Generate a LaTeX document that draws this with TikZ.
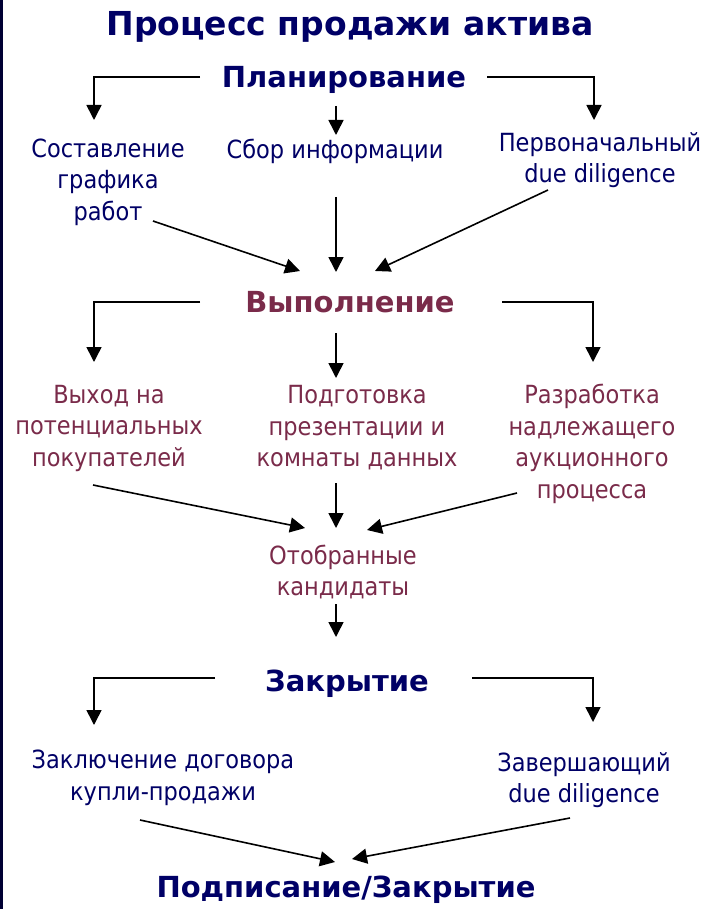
\documentclass[tikz,border=0pt]{standalone}
\usepackage{fontspec}
\setmainfont{DejaVu Sans}
\newfontfamily\taskfont{DejaVu Sans}[FakeStretch=0.9]
\usetikzlibrary{arrows.meta,calc}
\definecolor{navytext}{RGB}{0,0,102}
\definecolor{maroontext}{RGB}{122,43,74}
\definecolor{sidebar}{RGB}{0,0,51}
\begin{document}
\begin{tikzpicture}[x=1pt, y=-1pt,
  title/.style={font=\fontsize{33}{38}\selectfont\bfseries, text=navytext,
                inner sep=0pt, text height=23pt, text depth=0pt},
  phase/.style={font=\fontsize{29}{34}\selectfont\bfseries, text=navytext,
                inner sep=0pt, text height=21pt, text depth=0pt},
  task/.style={font=\taskfont\fontsize{25}{31.5}\selectfont, align=center,
               text=navytext, inner sep=0pt},
  arrow/.style={-{Triangle[width=15pt,length=15pt]}, line width=1.6pt},
]
  \useasboundingbox (0,0) rectangle (708,909);
  \fill[sidebar] (0,0) rectangle (3,909);

  % Headings
  \node[title] (title) at (350,24) {Процесс продажи актива};
  \node[phase] (plan) at (344,77) {Планирование};
  \node[phase, text=maroontext] (vyp) at (350,302) {Выполнение};
  \node[phase] (zakr) at (347,681) {Закрытие};
  \node[phase] (podp) at (346,887) {Подписание/Закрытие};

  % Planning tasks
  \node[task] (sost) at (108,182) {Составление\\графика\\работ};
  \node[task] (sbor) at (335,151) {Сбор информации};
  \node[task] (perv) at (600,160) {Первоначальный\\due diligence};

  % Execution tasks
  \node[task, text=maroontext] (vyhod) at (109,428) {Выход на\\потенциальных\\покупателей};
  \node[task, text=maroontext] (podg) at (357,428) {Подготовка\\презентации и\\комнаты данных};
  \node[task, text=maroontext] (razr) at (592,444) {Разработка\\надлежащего\\аукционного\\процесса};
  \node[task, text=maroontext] (otobr) at (343,572) {Отобранные\\кандидаты};

  % Closing tasks
  \node[task] (zakl) at (163,778) {Заключение договора\\купли-продажи};
  \node[task] (zav) at (584,780) {Завершающий\\due diligence};

  % Planning arrows
  \draw[arrow] ($(plan)+(-144,0)$) -| ($(sost)+(-14,-62)$);
  \draw[arrow] ($(plan)+(-8,29)$) -- ($(sbor)+(1,-16)$);
  \draw[arrow] ($(plan)+(143,0)$) -| ($(perv)+(-6,-40)$);
  \draw[arrow] ($(sost)+(45,39)$) -- ($(vyp)+(-50,-31)$);
  \draw[arrow] ($(sbor)+(1,46)$) -- ($(vyp)+(-14,-30)$);
  \draw[arrow] ($(perv)+(-52,30)$) -- ($(vyp)+(25,-31)$);

  % Execution arrows
  \draw[arrow] ($(vyp)+(-150,0)$) -| ($(vyhod)+(-15,-66)$);
  \draw[arrow] ($(vyp)+(-14,31)$) -- ($(podg)+(-21,-50)$);
  \draw[arrow] ($(vyp)+(152,0)$) -| ($(razr)+(1,-82)$);
  \draw[arrow] ($(vyhod)+(-16,57)$) -- ($(otobr)+(-38,-44)$);
  \draw[arrow] ($(podg)+(-21,55)$) -- ($(otobr)+(-7,-44)$);
  \draw[arrow] ($(razr)+(-75,49)$) -- ($(otobr)+(24,-42)$);
  \draw[arrow] ($(otobr)+(-7,32)$) -- ($(zakr)+(-11,-44)$);

  % Closing arrows
  \draw[arrow] ($(zakr)+(-132,-3)$) -| ($(zakl)+(-69,-53)$);
  \draw[arrow] ($(zakr)+(125,-3)$) -| ($(zav)+(9,-58)$);
  \draw[arrow] ($(zakl)+(-23,42)$) -- ($(podp)+(-11,-25)$);
  \draw[arrow] ($(zav)+(-14,38)$) -- ($(podp)+(6,-28)$);
\end{tikzpicture}
\end{document}
